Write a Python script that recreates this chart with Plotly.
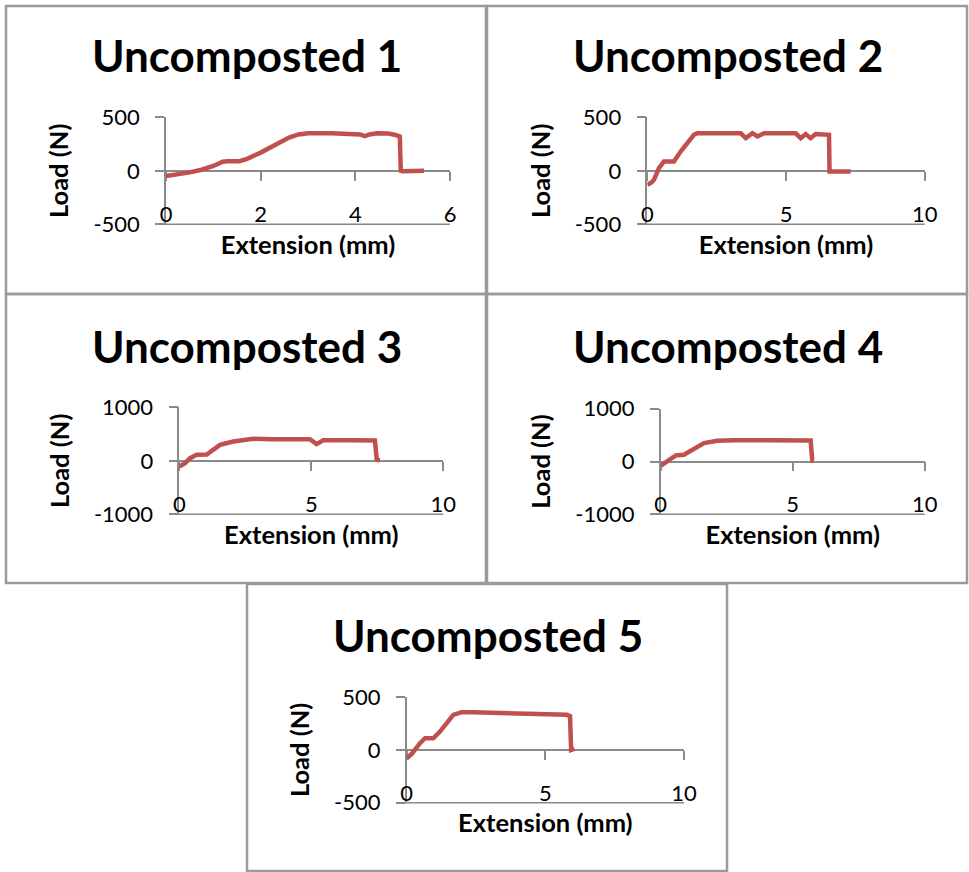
import plotly.graph_objects as go

W, H = 969, 872

# ---------------- data ----------------
titles = ["Uncomposted 1", "Uncomposted 2", "Uncomposted 3", "Uncomposted 4", "Uncomposted 5"]

ext1 = [0, 0.25, 0.5, 0.75, 1.0, 1.2, 1.3, 1.55, 1.7, 2.0, 2.3, 2.6, 2.8, 3.0, 3.5, 4.0, 4.1, 4.2, 4.3, 4.45, 4.7, 4.85, 4.94, 4.96, 5.0, 5.45]
load1 = [-50, -35, -15, 10, 45, 85, 90, 90, 110, 170, 245, 310, 340, 350, 352, 350, 340, 325, 340, 350, 348, 335, 320, 0, -5, 0]

ext2 = [0, 0.15, 0.24, 0.42, 0.6, 0.96, 1.2, 1.45, 1.68, 1.8, 2.5, 3.37, 3.55, 3.79, 3.97, 4.21, 5.35, 5.53, 5.71, 5.89, 6.07, 6.55, 6.57, 6.6, 7.33]
load2 = [-131, -110, -84, 25, 87, 87, 180, 260, 336, 352, 352, 350, 305, 352, 321, 352, 350, 305, 343, 305, 343, 336, -6, -6, -6]

ext3 = [0, 0.22, 0.41, 0.66, 1.04, 1.3, 1.54, 2.05, 2.8, 3.5, 4.95, 5.2, 5.45, 6.5, 7.41, 7.48, 7.6]
load3 = [-106, -43, 50, 112, 118, 220, 298, 360, 410, 405, 404, 311, 385, 382, 379, 19, 10]

ext4 = [0, 0.25, 0.57, 0.88, 1.2, 1.64, 2.14, 2.78, 4.0, 5.68, 5.74, 5.8]
load4 = [-81, 0, 114, 127, 222, 348, 392, 403, 401, 398, 19, 10]

ext5 = [0, 0.18, 0.48, 0.66, 0.96, 1.2, 1.68, 1.98, 2.4, 4.0, 5.77, 5.89, 5.93, 6.05]
load5 = [-79, -38, 63, 110, 110, 173, 331, 356, 356, 348, 331, 320, 0, 10]

extensions = [ext1, ext2, ext3, ext4, ext5]
loads = [load1, load2, load3, load4, load5]

x_ranges = [[0, 6], [0, 10], [0, 10], [0, 10], [0, 10]]
x_ticks = [[0, 2, 4, 6], [0, 5, 10], [0, 5, 10], [0, 5, 10], [0, 5, 10]]
y_ranges = [[-500, 500], [-500, 500], [-1000, 1000], [-1000, 1000], [-500, 500]]
y_ticks = [[-500, 0, 500], [-500, 0, 500], [-1000, 0, 1000], [-1000, 0, 1000], [-500, 0, 500]]
y_tick_labels = [["-500", "0", "500"], ["-500", "0", "500"], ["-1000", "0", "1000"],
                 ["-1000", "0", "1000"], ["-500", "0", "500"]]

x_title = "Extension (mm)"
y_title = "Load (N)"

# ---------------- layout geometry (pixels) ----------------
plot_boxes = [  # left, right, top gridline, bottom gridline
    (166, 450, 117.3, 224.3),
    (647.3, 924.7, 117.3, 224.3),
    (179.3, 443.3, 407.3, 514.3),
    (660.7, 924.7, 408.7, 514.3),
    (406.7, 684, 697, 802.7),
]
borders = [(6, 6, 486, 294), (487, 6, 967, 294), (6, 294, 486, 583), (487, 294, 967, 583), (247, 584, 727, 871)]
title_centers = [(246.5, 55.5), (728, 55.5), (246.5, 345.5), (728, 345.5), (487.5, 634.5)]
LABEL_RISE = 25   # x tick labels sit inside, above the bottom gridline
TICK_LEN = 9

LINE_RED = "#C0504D"
GRID = "#8a8a8a"
FONT = "Lato"

def px(x):
    return x / W

def py(y):
    return 1 - y / H

fig = go.Figure()
layout = dict(
    width=W, height=H, margin=dict(l=0, r=0, t=0, b=0, autoexpand=False),
    paper_bgcolor="white", plot_bgcolor="rgba(0,0,0,0)",
    showlegend=False, font=dict(family=FONT, color="black"),
)
annotations = []
shapes = []

n = len(titles)
for i in range(n):
    k = i + 1
    ko = i + 1 + n        # zero-level axis with tick marks
    L, R, T, B = plot_boxes[i]
    ymin, ymax = y_ranges[i]
    xd = [px(L), px(R)]
    yd = [py(B), py(T)]
    zero_pos = yd[0] + (0 - ymin) / (ymax - ymin) * (yd[1] - yd[0])
    xs = "" if k == 1 else str(k)
    xo = str(ko)

    # main x-axis: labels placed just above the bottom gridline
    layout["xaxis" + xs] = dict(
        domain=xd, anchor="free", position=py(B - LABEL_RISE), range=x_ranges[i], tickvals=x_ticks[i],
        showgrid=False, zeroline=False, showline=False, ticks="",
        tickfont=dict(size=22, family=FONT, color="black"),
        title=dict(text="<b>" + x_title + "</b>", font=dict(size=25.5, family=FONT, color="black"), standoff=9),
        fixedrange=True,
    )
    # zero-level x axis line with tick marks
    layout["xaxis" + xo] = dict(
        overlaying="x" + xs, anchor="free", position=zero_pos, range=x_ranges[i],
        tickvals=x_ticks[i], showticklabels=False, showgrid=False, zeroline=False,
        showline=True, linecolor=GRID, linewidth=1.5, ticks="outside", ticklen=TICK_LEN,
        tickcolor=GRID, tickwidth=1.5, layer="below traces", fixedrange=True,
    )
    layout["yaxis" + xs] = dict(
        domain=yd, anchor="x" + xs, range=y_ranges[i], tickvals=y_ticks[i], ticktext=y_tick_labels[i],
        showgrid=True, gridcolor=GRID, gridwidth=1.5, zeroline=False,
        showline=True, linecolor=GRID, linewidth=1.5, ticks="outside", ticklen=TICK_LEN,
        tickcolor=GRID, tickwidth=1.5, layer="below traces",
        ticklabelstandoff=11,
        tickfont=dict(size=22, family=FONT, color="black"),
        title=dict(text="<b>" + y_title + "</b>", font=dict(size=25.5, family=FONT, color="black"), standoff=17),
        fixedrange=True,
    )

    # invisible trace so the main subplot exists
    fig.add_trace(go.Scatter(x=extensions[i], y=loads[i], mode="lines", opacity=0,
                             xaxis="x" + xs, yaxis="y" + xs, hoverinfo="skip"))
    # visible curve on top-most overlay subplot
    fig.add_trace(go.Scatter(x=extensions[i], y=loads[i], mode="lines",
                             line=dict(color=LINE_RED, width=4.5),
                             xaxis="x" + xo, yaxis="y" + xs))

    # bottom gridline (with its tick) at the lower end of the y range
    shapes.append(dict(type="line", xref="paper", yref="paper",
                       x0=px(L - TICK_LEN), x1=px(R), y0=yd[0], y1=yd[0],
                       line=dict(color=GRID, width=1.5), layer="above"))

    bx0, by0, bx1, by1 = borders[i]
    shapes.append(dict(type="rect", xref="paper", yref="paper",
                       x0=px(bx0), x1=px(bx1), y0=py(by1), y1=py(by0),
                       line=dict(color="#9a9a9a", width=2.5), layer="below"))
    cx, cy = title_centers[i]
    annotations.append(dict(text="<b>" + titles[i] + "</b>", xref="paper", yref="paper",
                            x=px(cx), y=py(cy), xanchor="center", yanchor="middle",
                            showarrow=False, font=dict(size=44, family=FONT, color="black")))

layout["annotations"] = annotations
layout["shapes"] = shapes
fig.update_layout(**layout)
fig.write_html("out.html")
